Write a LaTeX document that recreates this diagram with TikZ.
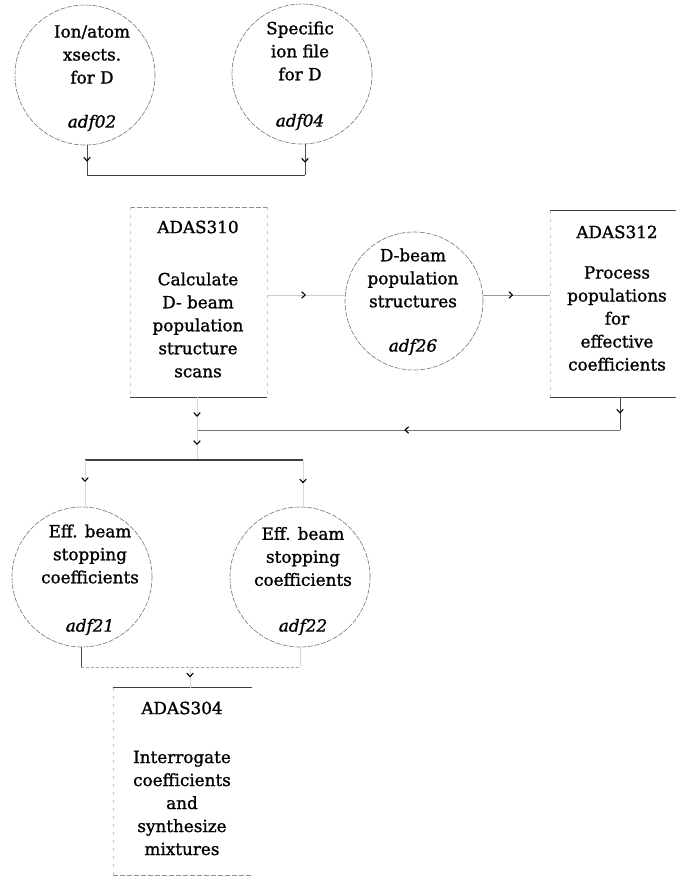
\documentclass[tikz,border=0pt]{standalone}
\usepackage{fontspec}
\setmainfont{DejaVu Serif}[RawFeature={embolden=1.2}]
\usetikzlibrary{arrows.meta,decorations.markings}
\begin{document}
\begin{tikzpicture}[x=1pt,y=-1pt,
 circ/.style={circle,draw=black!55,dash pattern=on 5pt off 1.5pt,line width=0.6pt,minimum size=140pt,inner sep=0pt},
 txt/.style={align=center,font=\fontsize{16.8}{23}\selectfont,inner sep=0pt},
 boxn/.style={rectangle,draw=none,inner sep=0pt},
 edgeh/.style={draw=black!75,line width=0.8pt},
 edged/.style={draw=black!45,line width=0.6pt,dash pattern=on 5pt off 2pt},
 side/.style={draw=black!22,line width=0.5pt,dash pattern=on 3pt off 5pt},
 conn/.style={draw=black!40,line width=0.6pt},
 midarr/.style={postaction={decorate},decoration={markings,mark=at position #1 with {\arrow[black,line width=1.1pt]{Straight Barb[length=3.5pt,width=6.5pt]}}}},
]
\useasboundingbox (0,0) rectangle (678,876);

% top data files
\node[circ] (c02) at (85,75) {};
\node[txt] (t02) at (92,54.5) {Ion/atom\\xsects.\\for D};
\node[txt] (i02) at (92,123) {\itshape adf02};
\node[circ] (c04) at (302,74) {};
\node[txt] (t04) at (300,51) {Specific\\ion file\\for D};
\node[txt] (i04) at (300,122) {\itshape adf04};

% ADAS310
\node[boxn,minimum width=137pt,minimum height=190pt] (b310) at (198.5,302) {};
\node[txt] (h310) at (198,227) {ADAS310};
\node[txt] (t310) at (198,325) {Calculate\\D- beam\\population\\structure\\scans};

% adf26
\node[circ,minimum size=138pt] (c26) at (414,301) {};
\node[txt] (t26) at (413,278) {D-beam\\population\\structures};
\node[txt] (i26) at (413,347) {\itshape adf26};

% ADAS312
\node[boxn,minimum width=126pt,minimum height=186pt] (b312) at (613,304) {};
\node[txt] (h312) at (617,232) {ADAS312};
\node[txt] (t312) at (617,318.5) {Process\\populations\\for\\effective\\coefficients};

% adf21 / adf22
\node[circ] (c21) at (82,577) {};
\node[txt] (t21) at (90,554) {Eff. beam\\stopping\\coefficients};
\node[txt] (i21) at (90,627) {\itshape adf21};
\node[circ] (c22) at (300,577) {};
\node[txt] (t22) at (303,556.5) {Eff. beam\\stopping\\coefficients};
\node[txt] (i22) at (303,627) {\itshape adf22};

% ADAS304
\node[boxn,minimum width=139pt,minimum height=187pt] (b304) at (182.5,781.5) {};
\node[txt] (h304) at (182,708) {ADAS304};
\node[txt] (t304) at (182,803) {Interrogate\\coefficients\\and\\synthesize\\mixtures};

% box edges
\draw[edged] (b310.north west) -- (b310.north east);
\draw[edgeh] (b310.south west) -- (b310.south east);
\draw[side] (b310.north west) -- (b310.south west);
\draw[side] (b310.north east) -- (b310.south east);
\draw[edgeh] (b312.north west) -- (b312.north east);
\draw[edgeh] (b312.south west) -- (b312.south east);
\draw[side] (b312.north west) -- (b312.south west);
\draw[edgeh] (b304.north west) -- (b304.north east);
\draw[edged] (b304.south west) -- (b304.south east);
\draw[side] (b304.north west) -- (b304.south west);

% connectors
\coordinate (j1) at (87,175);
\coordinate (j2) at (305,175);
\draw[conn,draw=black!70,midarr=0.55] (j1 |- c02.south) -- (j1);
\draw[conn,draw=black!70,midarr=0.6] (j2 |- c04.south) -- (j2);
\draw[edgeh] (j1) -- (j2);

\coordinate (ly) at (0,295);
\draw[conn,draw=black!20,midarr=0.5] (ly -| b310.east) -- (ly -| c26.west);
\draw[conn,midarr=0.45] (ly -| c26.east) -- (ly -| b312.west);

\coordinate (j7) at (620,430);
\coordinate (j3) at (197,430);
\coordinate (j4) at (197,460);
\draw[conn,draw=black!70,midarr=0.5] (j7 |- b312.south) -- (j7);
\draw[conn,draw=black!55,midarr=0.51] (j7) -- (j3);
\draw[conn,draw=black!15,midarr=0.6] (j3 |- b310.south) -- (j3);
\draw[conn,draw=black!15,midarr=0.5] (j3) -- (j4);

\coordinate (j5) at (85,460);
\coordinate (j6) at (303,460);
\draw[edgeh,line width=1.1pt] (j5) -- (j6);
\draw[conn,draw=black!15,midarr=0.47] (j5) -- (j5 |- c21.north);
\draw[conn,draw=black!15,midarr=0.5] (j6) -- (j6 |- c22.north);

\coordinate (j8) at (81,667);
\coordinate (j9) at (300,667);
\coordinate (j10) at (190,667);
\draw[conn,draw=black!70] (j8 |- c21.south) -- (j8);
\draw[conn,draw=black!35,dash pattern=on 3pt off 2pt] (j8) -- (j9);
\draw[conn,draw=black!15] (j9 |- c22.south) -- (j9);
\draw[conn,draw=black!15,midarr=0.5] (j10) -- (j10 |- b304.north);
\end{tikzpicture}
\end{document}
